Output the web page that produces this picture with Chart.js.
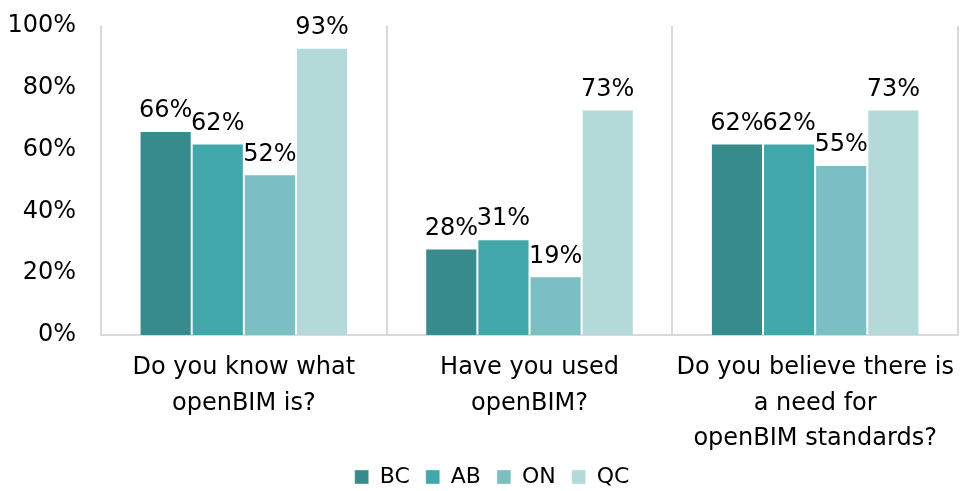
<!DOCTYPE html>
<html>
<head>
<meta charset="utf-8">
<script src="https://cdn.jsdelivr.net/npm/chart.js@4"></script>
<style>
  html, body { margin: 0; padding: 0; background: #fff; }
  #wrap { width: 962px; height: 491px; }
</style>
</head>
<body>
<div id="wrap"><canvas id="myChart" width="962" height="491"></canvas></div>
<script>
const categories = [
  ['Do you know what', 'openBIM is?'],
  ['Have you used', 'openBIM?'],
  ['Do you believe there is', 'a need for', 'openBIM standards?']
];
const seriesNames = ['BC', 'AB', 'ON', 'QC'];
const bcValues = [66, 28, 62];
const abValues = [62, 31, 62];
const onValues = [52, 19, 55];
const qcValues = [93, 73, 73];
const yTicks = [0, 20, 40, 60, 80, 100];

const colors = ['#378b8c', '#42a7aa', '#7bbfc2', '#b4d9d9'];
const allValues = [bcValues, abValues, onValues, qcValues];

// draws the % labels on top of each bar
const barLabels = {
  id: 'barLabels',
  afterDatasetsDraw(chart) {
    const ctx = chart.ctx;
    ctx.save();
    ctx.font = '24px "DejaVu Sans"';
    ctx.fillStyle = '#000';
    ctx.textAlign = 'center';
    ctx.textBaseline = 'bottom';
    chart.data.datasets.forEach((ds, i) => {
      const meta = chart.getDatasetMeta(i);
      meta.data.forEach((bar, j) => {
        ctx.fillText(ds.data[j] + '%', bar.x, bar.y - 8);
      });
    });
    ctx.restore();
  }
};

// legend sits a bit right of centre in the original
const legendShift = {
  id: 'legendShift',
  afterLayout(chart) {
    chart.legend.left += 13;
    chart.legend.right += 13;
  }
};

const ctx = document.getElementById('myChart').getContext('2d');
const myChart = new Chart(ctx, {
  type: 'bar',
  data: {
    labels: categories,
    datasets: seriesNames.map((name, i) => ({
      label: name,
      data: allValues[i],
      backgroundColor: colors[i],
      borderColor: 'rgba(255,255,255,0.35)',
      borderWidth: 1,
      categoryPercentage: 0.73,
      barPercentage: 1.0
    }))
  },
  options: {
    responsive: false,
    animation: false,
    devicePixelRatio: 1,
    layout: { padding: { top: 26, right: 4, left: 0, bottom: -7 } },
    plugins: {
      legend: {
        position: 'bottom',
        labels: {
          boxWidth: 14,
          boxHeight: 14,
          padding: 16,
          color: '#000',
          font: { family: 'DejaVu Sans', size: 22 }
        }
      },
      tooltip: { enabled: false }
    },
    scales: {
      x: {
        afterFit: axis => {
          axis.height = 115;
          axis.paddingLeft = 0;
          axis.paddingRight = 0;
        },
        grid: { display: true, offset: true, color: '#d9d9d9', lineWidth: 2, drawTicks: false },
        border: { display: true, color: '#d9d9d9', width: 2 },
        ticks: {
          autoSkip: false,
          color: '#000',
          padding: 15,
          maxRotation: 0,
          font: { family: 'DejaVu Sans', size: 24, lineHeight: 1.48 }
        }
      },
      y: {
        min: 0,
        max: 100,
        afterFit: axis => {
          axis.width = 101;
          axis.paddingTop = 0;
          axis.paddingBottom = 0;
        },
        afterBuildTicks: axis => { axis.ticks = yTicks.map(v => ({ value: v })); },
        grid: { display: false, drawTicks: false },
        border: { display: false },
        ticks: {
          color: '#000',
          padding: 25,
          callback: v => v + '%',
          font: { family: 'DejaVu Sans', size: 24 }
        }
      }
    }
  },
  plugins: [barLabels, legendShift]
});
</script>
</body>
</html>
